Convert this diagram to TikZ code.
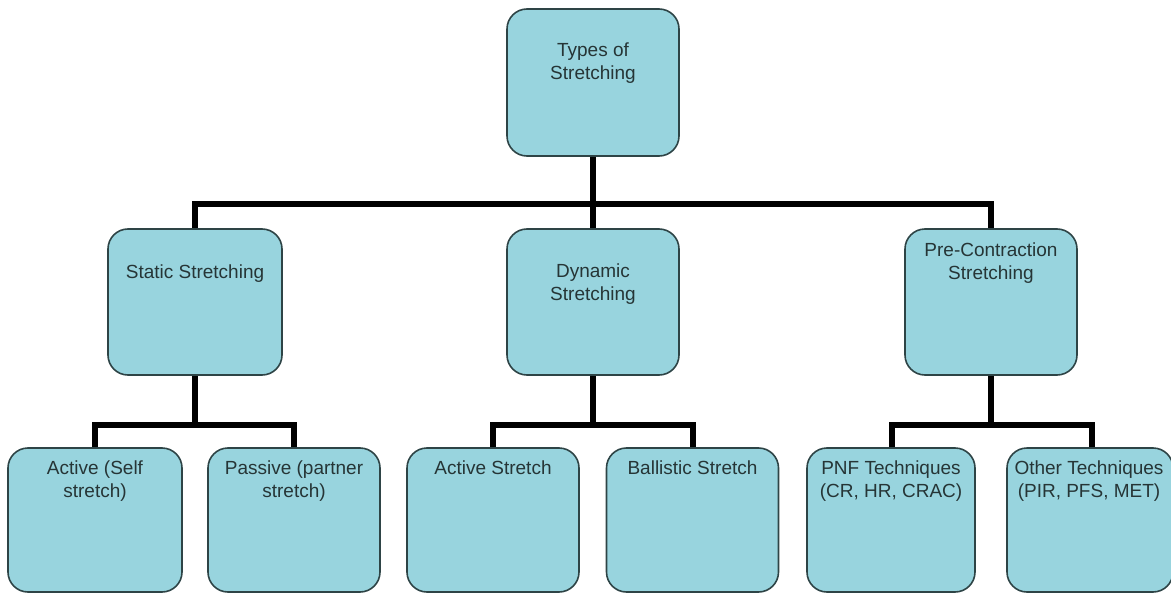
\documentclass[tikz,border=0pt]{standalone}
\usepackage{fontspec}
\setmainfont{Liberation Sans}
\usetikzlibrary{backgrounds}
\definecolor{boxfill}{HTML}{98D4DE}
\definecolor{boxline}{HTML}{2E4446}
\definecolor{txt}{HTML}{263536}
\tikzset{
  box/.style={draw=boxline, line width=1.6pt, fill=boxfill, rounded corners=20pt, inner sep=0pt},
  lbl/.style={anchor=north, inner sep=0pt, align=center, text=txt, font=\fontsize{19}{22.5}\selectfont},
  conn/.style={draw=black, line width=6pt, line join=miter}
}
\begin{document}
\begin{tikzpicture}[x=1pt,y=-1pt]
\useasboundingbox (0,0) rectangle (1171,594);
% level 1
\node[box, minimum width=172pt, minimum height=147pt] (top) at (593,82.5) {};
% level 2
\node[box, minimum width=174pt, minimum height=146pt] (static) at (195,302) {};
\node[box, minimum width=172pt, minimum height=146pt] (dyn) at (593,302) {};
\node[box, minimum width=172pt, minimum height=146pt] (pre) at (991,302) {};
% level 3
\node[box, minimum width=174pt, minimum height=144pt] (act) at (95,520) {};
\node[box, minimum width=172pt, minimum height=144pt] (pas) at (294,520) {};
\node[box, minimum width=172pt, minimum height=144pt] (acts) at (493,520) {};
\node[box, minimum width=172pt, minimum height=144pt] (bal) at (692.5,520) {};
\node[box, minimum width=168pt, minimum height=144pt] (pnf) at (891,520) {};
\node[box, minimum width=166pt, minimum height=144pt] (oth) at (1090,520) {};
% labels
\node[lbl] (ttop) at (593,43) {Types of\\Stretching};
\node[lbl] (tstatic) at (195,265) {Static Stretching};
\node[lbl] (tdyn) at (593,264) {Dynamic\\Stretching};
\node[lbl] (tpre) at (991,243) {Pre-Contraction\\Stretching};
\node[lbl] (tact) at (95,461) {Active (Self\\stretch)};
\node[lbl] (tpas) at (294,461) {Passive (partner\\stretch)};
\node[lbl] (tacts) at (493,461) {Active Stretch};
\node[lbl] (tbal) at (692.5,461) {Ballistic Stretch};
\node[lbl] (tpnf) at (891,461) {PNF Techniques\\(CR, HR, CRAC)};
\node[lbl] (toth) at (1089,461) {Other Techniques\\(PIR, PFS, MET)};
% bus coordinates
\coordinate (bus1) at (593,204);
\coordinate (bus2) at (195,425);
\coordinate (bus3) at (593,425);
\coordinate (bus4) at (991,425);
\begin{scope}[on background layer]
\fill[white] (0,0) rectangle (1171,594);
\draw[conn] (top.south) -- (bus1);
\draw[conn] (static.north) -- (static.north |- bus1) -- (pre.north |- bus1) -- (pre.north);
\draw[conn] (bus1) -- (dyn.north);
\draw[conn] (static.south) -- (bus2);
\draw[conn] (act.north) -- (act.north |- bus2) -- (pas.north |- bus2) -- (pas.north);
\draw[conn] (dyn.south) -- (bus3);
\draw[conn] (acts.north) -- (acts.north |- bus3) -- (bal.north |- bus3) -- (bal.north);
\draw[conn] (pre.south) -- (bus4);
\draw[conn] ([xshift=1pt]pnf.north) -- ([xshift=1pt]pnf.north |- bus4) -- ([xshift=2pt]oth.north |- bus4) -- ([xshift=2pt]oth.north);
\end{scope}
\end{tikzpicture}
\end{document}
